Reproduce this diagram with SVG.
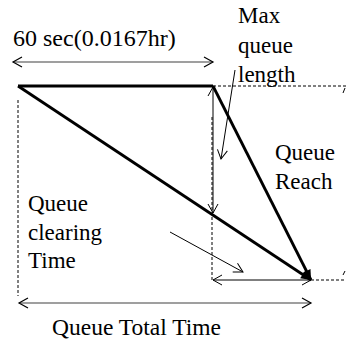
<svg xmlns="http://www.w3.org/2000/svg" width="346" height="342" viewBox="0 0 346 342">
<style>
.lbl{font-family:'Liberation Serif','DejaVu Serif',serif;font-size:23px;fill:#000}
.thick{stroke:#000;stroke-width:2.8;fill:none}
.thin{stroke:#000;stroke-width:1;fill:none}
.gray{stroke:#7f7f7f;stroke-width:1.6;fill:none}
.dash{stroke:#000;stroke-width:1;stroke-dasharray:3 2;fill:none}
</style>
<defs>
<marker id="open" markerUnits="userSpaceOnUse" markerWidth="12" markerHeight="12" viewBox="-10 -6 12 12" refX="0" refY="0" orient="auto-start-reverse">
<path d="M-9,-5 L0,0 L-9,5" fill="none" stroke="#000" stroke-width="1"/>
</marker>
<marker id="openg" markerUnits="userSpaceOnUse" markerWidth="12" markerHeight="12" viewBox="-10 -6 12 12" refX="0" refY="0" orient="auto-start-reverse">
<path d="M-9,-5 L0,0 L-9,5" fill="none" stroke="#000" stroke-width="1.2"/>
</marker>
<marker id="solid" markerUnits="userSpaceOnUse" markerWidth="14" markerHeight="14" viewBox="-12 -7 14 14" refX="0" refY="0" orient="auto">
<path d="M-10,-4.5 L0,0 L-10,4.5 Z" fill="#000"/>
</marker>
</defs>
<g id="connectors">
<line class="gray" x1="13" y1="62" x2="213" y2="62" marker-start="url(#openg)" marker-end="url(#openg)"/>
<line class="thick" x1="18" y1="86" x2="213" y2="86"/>
<line class="dash" x1="213" y1="86" x2="346" y2="86"/>
<line class="thick" x1="18" y1="86" x2="311" y2="280" marker-end="url(#solid)"/>
<line class="thick" x1="213" y1="86" x2="311" y2="280" marker-end="url(#solid)"/>
<line class="dash" x1="18" y1="100" x2="18" y2="296"/>
<line class="thin" x1="213" y1="87" x2="213" y2="213" marker-start="url(#open)" marker-end="url(#open)"/>
<line class="dash" x1="212" y1="117" x2="212" y2="280"/>
<line class="thin" x1="213" y1="280" x2="311" y2="280" marker-start="url(#open)" marker-end="url(#open)"/>
<line class="dash" x1="311" y1="280" x2="346" y2="280"/>
<line class="gray" x1="19" y1="303" x2="311" y2="303" marker-start="url(#openg)" marker-end="url(#openg)"/>
<line class="thin" x1="235" y1="70" x2="221" y2="159" marker-end="url(#open)"/>
<line class="thin" x1="170" y1="232" x2="243" y2="272" marker-end="url(#open)"/>
<line class="thin" x1="343" y1="93" x2="345" y2="88"/>
<line class="thin" x1="343" y1="275" x2="345" y2="271"/>
</g>
<g id="label-60sec"><text class="lbl" style="font-size:24px" x="13" y="46">60 sec(0.0167hr)</text></g>
<g id="label-max"><text class="lbl" x="238" y="23">Max</text><text class="lbl" x="238" y="53">queue</text><text class="lbl" x="238" y="82">length</text></g>
<g id="label-reach"><text class="lbl" x="275" y="160">Queue</text><text class="lbl" x="275" y="189">Reach</text></g>
<g id="label-clearing"><text class="lbl" x="28" y="211">Queue</text><text class="lbl" x="28" y="240">clearing</text><text class="lbl" x="28" y="268">Time</text></g>
<g id="label-total"><text class="lbl" style="font-size:23.5px" x="52" y="335">Queue Total Time</text></g>
</svg>
